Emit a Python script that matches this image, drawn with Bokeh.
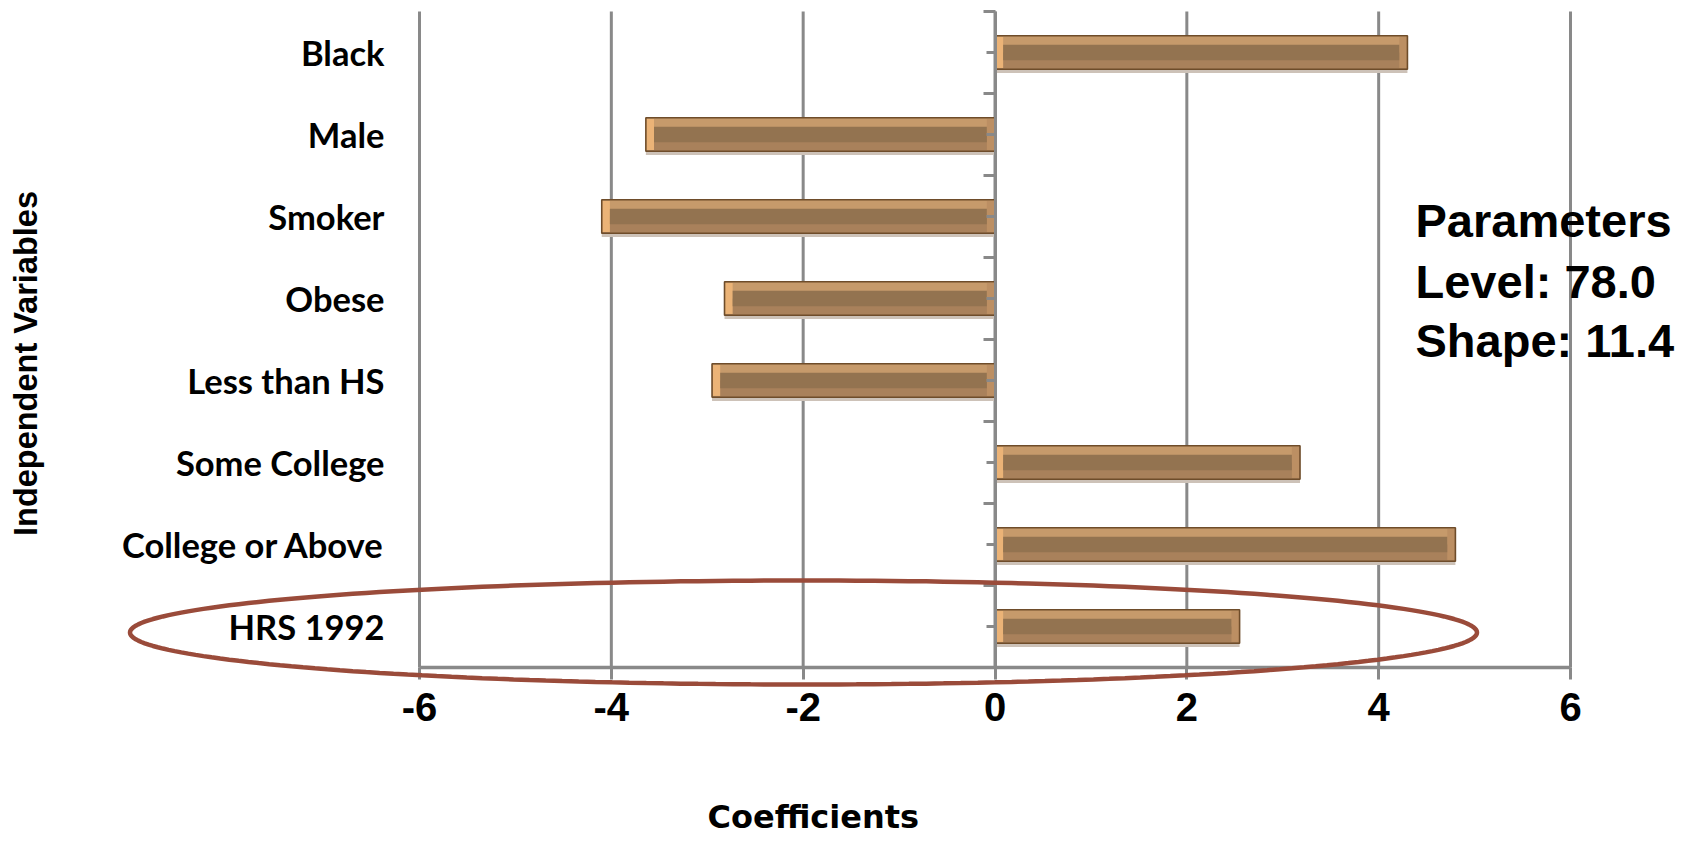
import numpy as np
from bokeh.plotting import figure
from bokeh.models import (ColumnDataSource, Range1d, FixedTicker,
                          LinearAxis, Label, PolyAnnotation)
from bokeh.transform import dodge
from bokeh.embed import file_html
from bokeh.resources import INLINE

# ---- data ----
categories = ["Black", "Male", "Smoker", "Obese", "Less than HS",
              "Some College", "College or Above", "HRS 1992"]
coefficients = [4.30, -3.64, -4.10, -2.82, -2.95, 3.18, 4.80, 2.55]
x_ticks = [-6, -4, -2, 0, 2, 4, 6]
x_title = "Coefficients"
y_title = "Independent Variables"
param_lines = ["Parameters", "Level: 78.0", "Shape: 11.4"]

# ---- layout (pixels) ----
W, H = 1692, 840
FRAME_LEFT, FRAME_RIGHT, FRAME_TOP, AXIS_Y = 419, 1570, 11, 667
n = len(categories)
ppx = (FRAME_RIGHT - FRAME_LEFT) / (x_ticks[-1] - x_ticks[0])
ppy = (AXIS_Y - FRAME_TOP) / n
X0 = x_ticks[0] - FRAME_LEFT / ppx
X1 = X0 + W / ppx
Y1 = n + FRAME_TOP / ppy
Y0 = Y1 - H / ppy


def px2x(px):
    return X0 + px / ppx


def py2y(py):
    return Y1 - py / ppy


GRID = "#898989"

p = figure(width=W, height=H,
           x_range=Range1d(X0, X1), y_range=Range1d(Y0, Y1),
           x_axis_location=None, y_axis_location=None,
           output_backend="svg", toolbar_location=None,
           min_border=0)
p.outline_line_color = None
p.background_fill_color = "white"
p.border_fill_color = "white"
p.grid.visible = False

# category positions (top to bottom)
y_pos = [n - 0.5 - i for i in range(n)]
boundaries = list(range(n + 1))

# vertical grid lines from the axis up to the top category
grid_src = ColumnDataSource(dict(x=x_ticks, y0=[0] * len(x_ticks),
                                 y1=[n] * len(x_ticks)))
p.segment(x0="x", y0="y0", x1="x", y1="y1", source=grid_src,
          line_color=GRID, line_width=3, level="underlay")

# bottom axis at y = 0
xa = LinearAxis(fixed_location=0, bounds=(x_ticks[0], x_ticks[-1]),
                ticker=FixedTicker(ticks=x_ticks),
                major_label_overrides={t: str(t) for t in x_ticks},
                axis_line_color=GRID, axis_line_width=3.5,
                major_tick_line_color=GRID, major_tick_line_width=3,
                major_tick_out=12, major_tick_in=0,
                minor_tick_line_color=None,
                major_label_text_font="Liberation Sans",
                major_label_text_font_style="bold",
                major_label_text_font_size="40px",
                major_label_text_color="black",
                major_label_standoff=13)
p.add_layout(xa, "below")

# category labels, placed at the left edge of the data area
ya = LinearAxis(fixed_location=x_ticks[0], bounds=(0, n),
                ticker=FixedTicker(ticks=y_pos, minor_ticks=[]),
                major_label_overrides={yv: c for yv, c in zip(y_pos, categories)},
                axis_line_color=None, major_tick_line_color=None,
                major_tick_out=0, major_tick_in=0,
                minor_tick_line_color=None,
                major_label_text_font="Lato",
                major_label_text_font_style="bold",
                major_label_text_font_size="34.5px",
                major_label_text_color="black",
                major_label_standoff=35)
p.add_layout(ya, "left")

# vertical axis drawn at x = 0
zero_axis = LinearAxis(fixed_location=0, bounds=(0, n),
                       ticker=FixedTicker(ticks=boundaries, minor_ticks=y_pos),
                       major_label_overrides={b: "" for b in boundaries},
                       major_label_text_color=None,
                       axis_line_color=GRID, axis_line_width=3,
                       major_tick_line_color=GRID, major_tick_line_width=3,
                       major_tick_in=12, major_tick_out=0,
                       minor_tick_line_color=GRID, minor_tick_line_width=3,
                       minor_tick_in=9, minor_tick_out=0)
p.add_layout(zero_axis, "right")

# bars
inset = 0.085
left = [min(0.0, v) for v in coefficients]
right = [max(0.0, v) for v in coefficients]
src = ColumnDataSource(dict(
    y=y_pos, left=left, right=right,
    in_left=[l + inset for l in left],
    in_right=[r - inset for r in right],
))
BH = 0.41
p.hbar(y=dodge("y", -0.045), left="left", right="right",
       height=BH, source=src, fill_color="#cdc2b8", line_color=None)
p.hbar(y="y", left="left", right="right", height=BH, source=src,
       fill_color="#C69A6B", line_color=None)
p.hbar(y=dodge("y", -BH / 4), left="left", right="right",
       height=BH / 2, source=src, fill_color="#A9815B", line_color=None)
p.hbar(y="y", left="left", right="in_left", height=BH * 0.92, source=src,
       fill_color="#EBB377", line_color=None)
p.hbar(y="y", left="in_right", right="right", height=BH * 0.92, source=src,
       fill_color="#BC8F63", line_color=None)
p.hbar(y="y", left="in_left", right="in_right", height=0.19, source=src,
       fill_color="#937350", line_color=None)
p.hbar(y="y", left="left", right="right", height=BH, source=src,
       fill_color=None, line_color="#6E4C2A", line_width=1.6)

# highlight ellipse around the HRS 1992 row
t = np.linspace(0, 2 * np.pi, 241)
ecx, ecy = px2x(803), py2y(632)
ea, eb = 673.5 / ppx, 52 / ppy
p.add_layout(PolyAnnotation(xs=list(ecx + ea * np.cos(t)),
                            ys=list(ecy + eb * np.sin(t)),
                            fill_color=None, fill_alpha=0,
                            line_color="#9A4B3A", line_alpha=1,
                            line_width=4.5))

# axis titles
p.add_layout(Label(x=px2x(25), y=py2y(363), text=y_title, angle=np.pi / 2,
                   text_align="center", text_baseline="alphabetic",
                   text_font="Liberation Sans", text_font_style="bold",
                   text_font_size="32.5px", text_color="black"))
p.add_layout(Label(x=px2x(707), y=py2y(816), text=x_title,
                   text_align="left", text_baseline="alphabetic",
                   text_font="DejaVu Sans", text_font_style="bold",
                   text_font_size="32px", text_color="black"))

# parameters block
for txt, base in zip(param_lines, [220, 281, 340]):
    p.add_layout(Label(x=px2x(1415), y=py2y(base), text=txt,
                       text_align="left", text_baseline="alphabetic",
                       text_font="Liberation Sans", text_font_style="bold",
                       text_font_size="47px", text_color="black"))

open("out.html", "w").write(file_html(p, INLINE))
